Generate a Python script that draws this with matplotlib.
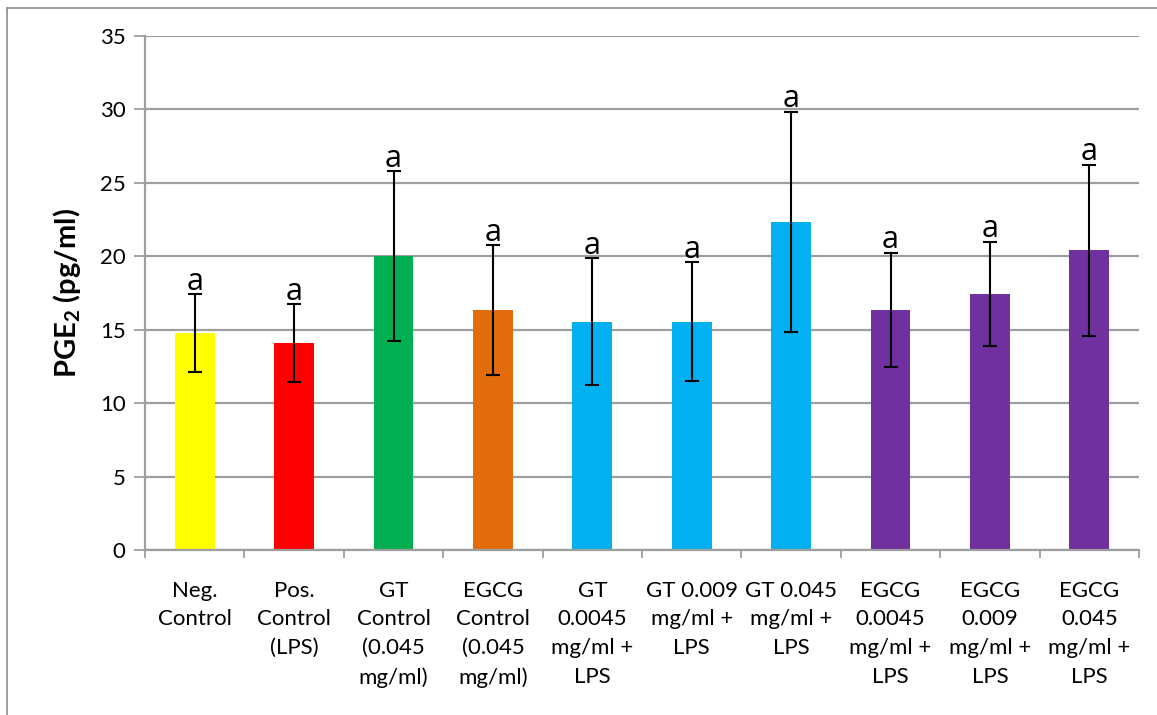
import matplotlib
matplotlib.use("Agg")
import matplotlib.pyplot as plt
from matplotlib.lines import Line2D

plt.rcParams['font.family'] = ['Lato', 'DejaVu Sans']

categories = [
    "Neg.\nControl",
    "Pos.\nControl\n(LPS)",
    "GT\nControl\n(0.045\nmg/ml)",
    "EGCG\nControl\n(0.045\nmg/ml)",
    "GT\n0.0045\nmg/ml +\nLPS",
    "GT 0.009\nmg/ml +\nLPS",
    "GT 0.045\nmg/ml +\nLPS",
    "EGCG\n0.0045\nmg/ml +\nLPS",
    "EGCG\n0.009\nmg/ml +\nLPS",
    "EGCG\n0.045\nmg/ml +\nLPS",
]
means = [14.8, 14.1, 20.0, 16.35, 15.55, 15.55, 22.35, 16.35, 17.45, 20.4]
errors = [2.65, 2.65, 5.8, 4.4, 4.3, 4.05, 7.5, 3.9, 3.55, 5.85]
letters = ["a"] * 10
colors = ["#FFFF00", "#FF0000", "#00B050", "#E36C0A", "#00B0F0",
          "#00B0F0", "#00B0F0", "#7030A0", "#7030A0", "#7030A0"]
yticks = [0, 5, 10, 15, 20, 25, 30, 35]

W, H = 1157, 715
fig = plt.figure(figsize=(W / 100, H / 100), dpi=100)
ax = fig.add_axes([145 / W, (H - 550) / H, (1139 - 145) / W, (550 - 36) / H])

x = list(range(len(categories)))
ax.bar(x, means, width=0.4, color=colors, zorder=2)
ax.errorbar(x, means, yerr=errors, fmt="none", ecolor="black",
            elinewidth=1.5, capsize=5, capthick=1.5, zorder=3)

for xi, m, e, t in zip(x, means, errors, letters):
    ax.annotate(t, (xi, m + e), xytext=(0, 3), textcoords="offset points",
                ha="center", va="baseline", fontsize=22, color="black",
                family=["Open Sans", "DejaVu Sans"], zorder=4)

ax.set_xlim(-0.5, len(categories) - 0.5)
ax.set_ylim(0, 35)
ax.set_yticks(yticks)
ax.set_yticklabels([str(v) for v in yticks], fontsize=16)
ax.yaxis.grid(True, color="#9E9E9E", linewidth=1.6, zorder=0)
ax.set_axisbelow(True)

# category labels between boundary ticks
ax.set_xticks(x)
ax.set_xticklabels(categories, fontsize=16, linespacing=1.55, va="top")
ax.tick_params(axis="x", length=0, pad=22)
ax.set_xticks([i - 0.5 for i in range(len(categories) + 1)], minor=True)
ax.tick_params(axis="x", which="minor", length=6, width=1.3, color="#9E9E9E",
               direction="out")
ax.tick_params(axis="y", length=8, width=1.3, color="#9E9E9E", pad=6)

for side in ["top", "right"]:
    ax.spines[side].set_visible(False)
for side in ["left", "bottom"]:
    ax.spines[side].set_color("#9E9E9E")
    ax.spines[side].set_linewidth(1.6)

ax.set_ylabel("PGE$_\\mathregular{2}$ (pg/ml)", fontsize=21, fontweight="bold",
              labelpad=12)

# outer frame of the chart area
fig.add_artist(Line2D([7 / W, 7 / W], [0, 1 - 8 / H], transform=fig.transFigure,
                      color="#8C8C8C", linewidth=1.2))
fig.add_artist(Line2D([7 / W, 1], [1 - 8 / H, 1 - 8 / H], transform=fig.transFigure,
                      color="#8C8C8C", linewidth=1.2))

fig.savefig("out.png", dpi=100)
